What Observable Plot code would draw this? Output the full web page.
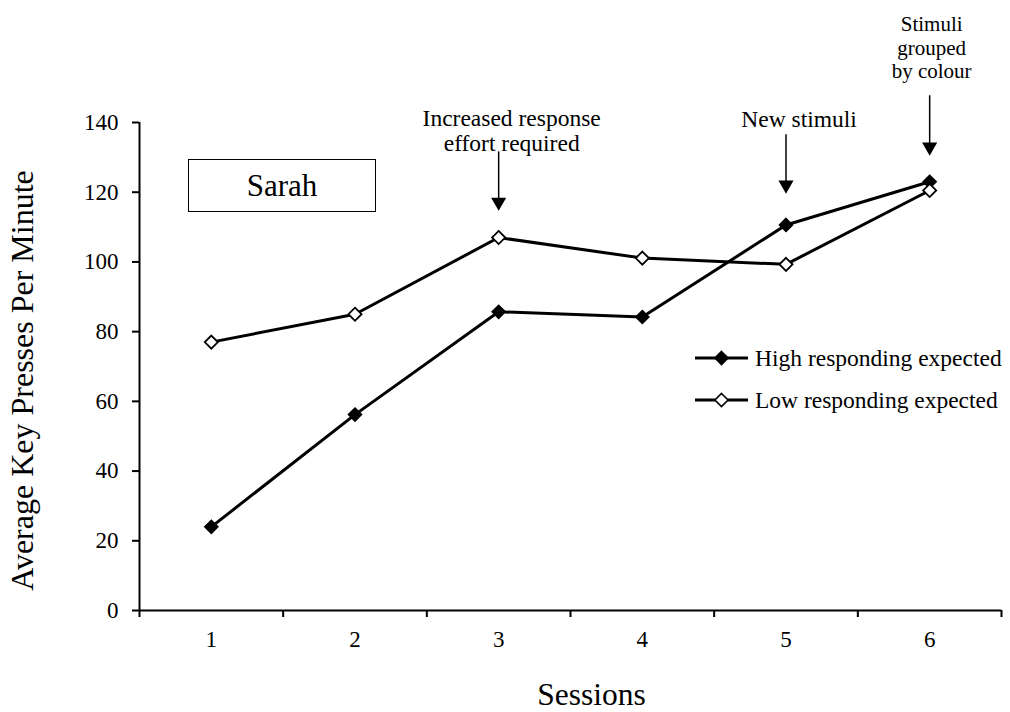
<!DOCTYPE html>
<html><head><meta charset="utf-8">
<script src="https://cdn.jsdelivr.net/npm/d3@7"></script>
<script src="https://cdn.jsdelivr.net/npm/@observablehq/plot@0.6"></script>
<style>
body{margin:0;background:#fff;}
#wrap{position:relative;width:1010px;height:712px;font-family:"Liberation Serif","Times New Roman",serif;color:#000;}
#sarah{position:absolute;left:188px;top:159px;width:186px;height:51px;border:1px solid #000;display:flex;align-items:center;justify-content:center;font-size:31px;background:#fff;}
#overlay{position:absolute;left:0;top:0;pointer-events:none;}
</style></head><body><div id="wrap"></div>
<script>
const sessions = [1, 2, 3, 4, 5, 6];
const highValues = [24, 56.2, 85.7, 84.2, 110.6, 123.0];
const lowValues = [77, 85, 107, 101.1, 99.3, 120.5];
const seriesNames = ["High responding expected", "Low responding expected"];
const yTicks = [0, 20, 40, 60, 80, 100, 120, 140];
const sessionBounds = [0.5, 1.5, 2.5, 3.5, 4.5, 5.5, 6.5];
const annotSessions = [3, 5, 6];
const annotTexts = ["Increased response\neffort required", "New stimuli", "Stimuli\ngrouped\nby colour"];
const annotTextY = [137.8, 141.1, 161.7];
const arrowTop = [129.0, 133.9, 145.1];
const arrowTip = [114.7, 119.6, 130.5];
const panelLabel = "Sarah";
const xTitle = "Sessions";
const yTitle = "Average Key Presses Per Minute";

const high = sessions.map((s, i) => ({session: s, value: highValues[i], series: seriesNames[0]}));
const low = sessions.map((s, i) => ({session: s, value: lowValues[i], series: seriesNames[1]}));
const table = high.concat(low);
const annots = annotSessions.map((s, i) => ({session: s, text: annotTexts[i], ty: annotTextY[i], top: arrowTop[i], tip: arrowTip[i]}));
const font = '"Liberation Serif","Times New Roman",serif';

const chart = Plot.plot({
  width: 1010, height: 712,
  marginLeft: 139, marginRight: 9, marginTop: 122, marginBottom: 102,
  style: {fontFamily: font, background: "#fff", color: "#000", overflow: "visible"},
  x: {domain: [0.5, 6.5]},
  y: {domain: [0, 140]},
  marks: [
    Plot.axisY({ticks: yTicks, tickSize: 7, tickPadding: 14, fontSize: 23, label: null, strokeWidth: 2}),
    Plot.axisX({ticks: sessionBounds, tickSize: 7, tickFormat: () => "", label: null, strokeWidth: 2}),
    Plot.axisX({ticks: sessions, tickSize: 0, tickPadding: 20, fontSize: 23, label: null, tickFormat: d => String(d)}),
    Plot.ruleX([0.5], {strokeWidth: 2}),
    Plot.ruleY([0], {strokeWidth: 2}),
    Plot.line(table, {x: "session", y: "value", z: "series", stroke: "#000", strokeWidth: 3}),
    Plot.dot(high, {x: "session", y: "value", symbol: "diamond2", r: 5.9, fill: "#000", stroke: "#000", strokeWidth: 1.5}),
    Plot.dot(low, {x: "session", y: "value", symbol: "diamond2", r: 5.9, fill: "#fff", stroke: "#000", strokeWidth: 1.8}),
    Plot.ruleX(annots, {x: "session", y1: "top", y2: "tip", dy: -9, stroke: "#000", strokeWidth: 1.5}),
    Plot.dot(annots, {x: "session", y: "tip", symbol: d3.symbolTriangle, r: 5.6, rotate: 180, dy: -8.66, fill: "#000", stroke: "none"}),
    Plot.text(annots.slice(0, 2), {x: "session", y: "ty", text: "text", fontSize: 23.5, lineHeight: 1.07, lineAnchor: "middle", dx: 13, fill: "#000"}),
    Plot.text(annots.slice(2), {x: "session", y: "ty", text: "text", fontSize: 21, lineHeight: 1.14, lineAnchor: "middle", dx: 2, fill: "#000"}),
    Plot.text([xTitle], {text: d => d, frameAnchor: "bottom", textAnchor: "middle", dx: 21, dy: 84, fontSize: 31.5, lineAnchor: "middle", fill: "#000"}),
    Plot.text([yTitle], {text: d => d, frameAnchor: "left", textAnchor: "middle", rotate: -90, dx: -117, dy: 14, fontSize: 32, lineAnchor: "middle", fill: "#000"})
  ]
});

const wrap = document.getElementById("wrap");
wrap.appendChild(chart);

const box = document.createElement("div");
box.id = "sarah";
box.textContent = panelLabel;
wrap.appendChild(box);

// legend overlay
const ov = d3.select(wrap).append("svg").attr("id", "overlay").attr("width", 1010).attr("height", 712);
const legendRows = [
  {name: seriesNames[0], fill: "#000", y: 358},
  {name: seriesNames[1], fill: "#fff", y: 400}
];
const g = ov.selectAll("g.leg").data(legendRows).join("g").attr("class", "leg")
  .attr("transform", d => `translate(695,${d.y})`);
g.append("line").attr("x1", 0).attr("x2", 53).attr("stroke", "#000").attr("stroke-width", 3);
g.append("path").attr("d", d3.symbol(d3.symbolDiamond2, Math.PI * 5.9 * 5.9)())
  .attr("transform", "translate(26.5,0)").attr("fill", d => d.fill).attr("stroke", "#000").attr("stroke-width", 1.6);
g.append("text").attr("x", 60).attr("dy", "0.33em").attr("font-family", font).attr("font-size", 23.5)
  .attr("fill", "#000").text(d => d.name);
</script></body></html>
